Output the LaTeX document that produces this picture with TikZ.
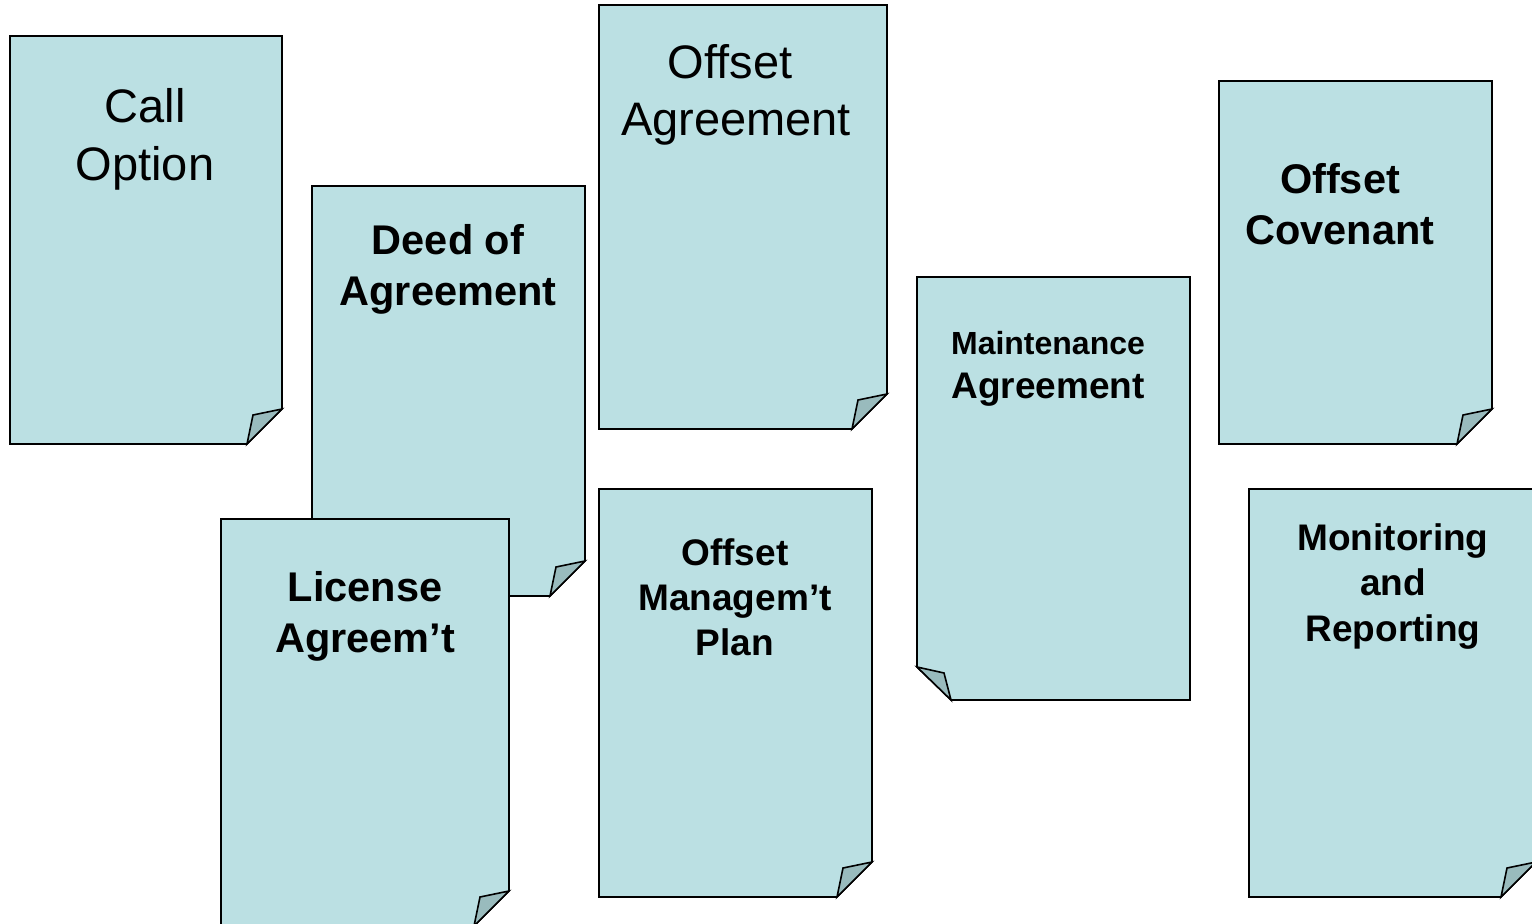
\documentclass[tikz,border=0pt]{standalone}
\usepackage{fontspec}
\setmainfont{Liberation Sans}
\definecolor{docfill}{RGB}{187,224,227}
\definecolor{flapfill}{RGB}{153,187,189}
\tikzset{
  docshape/.style={draw=black,fill=docfill,line width=1.6pt,line join=miter},
  flapshape/.style={draw=black,fill=flapfill,line width=1.6pt,line join=miter},
  bigtxt/.style={anchor=base,inner sep=0pt,font=\fontsize{47}{57}\selectfont},
  boldtxt/.style={anchor=base,inner sep=0pt,font=\fontsize{41.5}{51}\selectfont\bfseries},
  midtxt/.style={anchor=base,inner sep=0pt,font=\fontsize{37}{45}\selectfont\bfseries},
  smalltxt/.style={anchor=base,inner sep=0pt,font=\fontsize{32}{40}\selectfont\bfseries}
}
% document with folded bottom-right corner: x1,y1,x2,y2
\newcommand\docbr[4]{%
  \fill[docshape] (#1,#2) -- (#3,#2) -- (#3,#4-35) -- (#3-35,#4) -- (#1,#4) -- cycle;
  \fill[flapshape] (#3,#4-35) -- (#3-29,#4-29) -- (#3-35,#4) -- cycle;
}
% document with folded bottom-left corner
\newcommand\docbl[4]{%
  \fill[docshape] (#1,#2) -- (#3,#2) -- (#3,#4) -- (#1+34,#4) -- (#1,#4-33) -- cycle;
  \fill[flapshape] (#1,#4-33) -- (#1+27,#4-27) -- (#1+34,#4) -- cycle;
}
\begin{document}
\begin{tikzpicture}[x=1pt,y=-1pt]
\useasboundingbox (0,0) rectangle (1532,924);
\clip (0,0) rectangle (1532,924);
% Call Option
\docbr{10}{36}{282}{444}
\node[bigtxt] (call1) at (145,122) {Call};
\node[bigtxt] (call2) at (145,180) {Option};
% Deed of Agreement
\docbr{312}{186}{585}{596}
\node[boldtxt] (deed1) at (448,254) {Deed of};
\node[boldtxt] (deed2) at (448,305) {Agreement};
% License Agreem't
\docbr{221}{519}{509}{926}
\node[boldtxt] (lic1) at (365,601) {License};
\node[boldtxt] (lic2) at (365,652) {Agreem’t};
% Offset Agreement
\docbr{599}{5}{887}{429}
\node[bigtxt] (oa1) at (730,78) {Offset};
\node[bigtxt] (oa2) at (736,135) {Agreement};
% Offset Managem't Plan
\docbr{599}{489}{872}{897}
\node[midtxt] (omp1) at (735,565) {Offset};
\node[midtxt] (omp2) at (735,610) {Managem’t};
\node[midtxt] (omp3) at (735,655) {Plan};
% Maintenance Agreement
\docbl{917}{277}{1190}{700}
\node[smalltxt] (ma1) at (1048,354) {Maintenance};
\node[midtxt] (ma2) at (1048,398) {Agreement};
% Offset Covenant
\docbr{1219}{81}{1492}{444}
\node[boldtxt] (oc1) at (1340,193) {Offset};
\node[boldtxt] (oc2) at (1340,244) {Covenant};
% Monitoring and Reporting
\docbr{1249}{489}{1536}{897}
\node[midtxt] (mr1) at (1393,550) {Monitoring};
\node[midtxt] (mr2) at (1393,595) {and};
\node[midtxt] (mr3) at (1393,641) {Reporting};
\end{tikzpicture}
\end{document}
